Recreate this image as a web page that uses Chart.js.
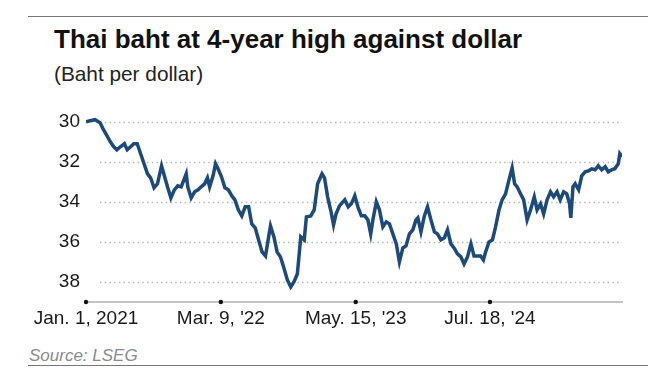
<!DOCTYPE html>
<html>
<head>
<meta charset="utf-8">
<script src="https://cdn.jsdelivr.net/npm/chart.js@4/dist/chart.umd.min.js"></script>
<style>
  html, body { margin: 0; padding: 0; background: #fff; }
  body { width: 671px; height: 384px; position: relative; overflow: hidden; font-family: "Liberation Sans", Arial, sans-serif; }
  .rule { position: absolute; left: 28px; width: 620px; height: 0; border-top: 1.5px solid #777; }
  #title { position: absolute; left: 54px; top: 26px; font-size: 26px; line-height: 26px; font-weight: bold; color: #111; white-space: nowrap; }
  #subtitle { position: absolute; left: 54px; top: 64px; font-size: 20.8px; line-height: 20px; color: #222; white-space: nowrap; }
  #source { position: absolute; left: 29px; top: 347px; font-size: 17px; line-height: 17px; font-style: italic; color: #8a8a8a; white-space: nowrap; }
  #wrap { position: absolute; left: 0; top: 100px; width: 671px; height: 240px; }
</style>
</head>
<body>
<div class="rule" style="top:16px"></div>
<div id="title">Thai baht at 4-year high against dollar</div>
<div id="subtitle">(Baht per dollar)</div>
<div id="wrap"><canvas id="chart"></canvas></div>
<div id="source">Source: LSEG</div>
<div class="rule" style="top:365px"></div>

<script>
// baht per dollar
const dates = [
  '2021-01-01','2021-01-14','2021-01-30','2021-02-15','2021-02-26','2021-03-09','2021-03-20','2021-03-31',
  '2021-04-10','2021-04-21','2021-05-04','2021-05-13','2021-05-24','2021-06-03','2021-06-14','2021-06-25',
  '2021-07-06','2021-07-17','2021-07-27','2021-08-07','2021-08-18','2021-08-31','2021-09-09','2021-09-19',
  '2021-09-30','2021-10-11','2021-10-22','2021-11-02','2021-11-18','2021-11-23','2021-12-04','2021-12-15',
  '2021-12-26','2022-01-05','2022-01-16','2022-01-25','2022-02-01','2022-02-12','2022-02-20','2022-02-28',
  '2022-03-11','2022-03-22','2022-04-02','2022-04-13','2022-04-23','2022-05-04','2022-05-15','2022-05-26',
  '2022-06-06','2022-06-16','2022-06-27','2022-07-08','2022-07-19','2022-07-30','2022-08-09','2022-08-15',
  '2022-08-26','2022-09-05','2022-09-16','2022-09-27','2022-10-08','2022-10-19','2022-10-29','2022-11-09',
  '2022-11-20','2022-12-01','2022-12-08','2022-12-22','2023-01-02','2023-01-13','2023-01-27','2023-02-04',
  '2023-02-14','2023-02-25','2023-03-05','2023-03-13','2023-03-24','2023-04-04','2023-04-10','2023-04-21',
  '2023-05-01','2023-05-12','2023-05-22','2023-06-02','2023-06-13','2023-06-23','2023-07-02','2023-07-09',
  '2023-07-20','2023-07-30','2023-08-10','2023-08-21','2023-08-31','2023-09-11','2023-09-22','2023-10-02',
  '2023-10-13','2023-10-23','2023-11-03','2023-11-14','2023-11-24','2023-11-30','2023-12-10','2023-12-21',
  '2023-12-31','2024-01-11','2024-01-22','2024-02-01','2024-02-12','2024-02-23','2024-03-04','2024-03-15',
  '2024-03-25','2024-04-05','2024-04-16','2024-04-26','2024-05-07','2024-05-18','2024-05-28','2024-06-08',
  '2024-06-18','2024-06-27','2024-07-04','2024-07-15','2024-07-26','2024-08-05','2024-08-16','2024-08-26',
  '2024-09-06','2024-09-17','2024-09-27','2024-10-05','2024-10-13','2024-10-24','2024-11-03','2024-11-14',
  '2024-11-25','2024-12-07','2024-12-16','2024-12-27','2025-01-06','2025-01-17','2025-01-28','2025-02-07',
  '2025-02-18','2025-02-28','2025-03-11','2025-03-21','2025-03-30','2025-04-03','2025-04-10','2025-04-17',
  '2025-04-28','2025-05-08','2025-05-19','2025-05-30','2025-06-09','2025-06-20','2025-06-30','2025-07-11',
  '2025-07-22','2025-08-01','2025-08-12','2025-08-22','2025-09-02','2025-09-07','2025-09-14'
];
const rates = [
  30.0, 29.95, 29.9, 30.05, 30.4, 30.7, 31.0, 31.25,
  31.4, 31.25, 31.1, 31.4, 31.25, 31.1, 31.1, 31.6,
  32.1, 32.6, 32.8, 33.3, 33.1, 32.2, 32.7, 33.25,
  33.8, 33.4, 33.2, 33.25, 32.6, 33.25, 33.8, 33.5,
  33.4, 33.25, 33.1, 32.8, 33.25, 32.7, 32.1, 32.35,
  32.75, 33.3, 33.4, 33.7, 33.9, 34.4, 34.7, 34.25,
  34.25, 35.1, 35.3, 35.9, 36.5, 36.7, 35.75, 35.2,
  35.75, 36.5, 36.75, 37.3, 37.9, 38.25, 38.0, 37.6,
  35.75, 35.9, 34.75, 34.7, 34.4, 33.1, 32.6, 32.8,
  33.75, 34.5, 35.15, 34.6, 34.2, 34.0, 33.9, 34.25,
  34.1, 33.7, 34.25, 34.7, 34.7, 34.9, 35.6, 34.9,
  34.0, 34.4, 35.25, 35.0, 35.1, 35.6, 36.1, 37.0,
  36.3, 36.2, 35.6, 35.4, 34.9, 34.8, 35.5, 34.7,
  34.25, 34.9, 35.5, 35.6, 35.9, 35.8, 35.4, 36.1,
  36.3, 36.6, 36.75, 37.1, 36.75, 36.1, 36.7, 36.7,
  36.7, 36.9, 36.5, 36.0, 35.9, 35.25, 34.4, 33.9,
  33.6, 32.9, 32.3, 33.1, 33.25, 33.6, 33.9, 34.9,
  34.4, 33.75, 34.4, 34.1, 34.6, 33.9, 33.5, 33.75,
  33.5, 33.9, 33.5, 33.6, 34.1, 34.8, 33.25, 33.1,
  33.4, 32.7, 32.5, 32.45, 32.35, 32.4, 32.2, 32.4,
  32.25, 32.5, 32.4, 32.35, 32.1, 31.6, 31.75
];
const xTickDates = ['2021-01-01', '2022-03-09', '2023-05-15', '2024-07-18'];
const xTickLabels = ['Jan. 1, 2021', "Mar. 9, '22", "May. 15, '23", "Jul. 18, '24"];
const yTicks = [30, 32, 34, 36, 38];

const day0 = Date.parse('2021-01-01');
const dayOf = s => (Date.parse(s) - day0) / 86400000;
const points = dates.map((d, i) => ({ x: dayOf(d), y: rates[i] }));
const xTickDays = xTickDates.map(dayOf);

const noPad = scale => {
  scale.paddingTop = 0;
  scale.paddingBottom = 0;
  scale.paddingLeft = 0;
  scale.paddingRight = 0;
};

const gridAndDots = {
  id: 'gridAndDots',
  beforeDatasetsDraw(chart) {
    const { ctx, chartArea, scales } = chart;
    ctx.save();
    ctx.strokeStyle = '#b8b8b8';
    ctx.lineWidth = 1.5;
    ctx.setLineDash([1.5, 3.2]);
    yTicks.forEach(v => {
      const y = Math.round(scales.y.getPixelForValue(v)) + 0.5;
      ctx.beginPath();
      ctx.moveTo(chartArea.left + 14, y);
      ctx.lineTo(chartArea.right, y);
      ctx.stroke();
    });
    ctx.restore();
  },
  afterDatasetsDraw(chart) {
    const { ctx, chartArea, scales } = chart;
    ctx.save();
    ctx.fillStyle = '#111';
    xTickDays.forEach(d => {
      ctx.beginPath();
      ctx.arc(scales.x.getPixelForValue(d), chartArea.bottom, 2.2, 0, Math.PI * 2);
      ctx.fill();
    });
    ctx.restore();
  }
};

new Chart(document.getElementById('chart'), {
  type: 'line',
  data: {
    datasets: [{
      data: points,
      borderColor: '#1d4a78',
      borderWidth: 3.5,
      pointRadius: 0,
      tension: 0,
      fill: false
    }]
  },
  options: {
    responsive: true,
    maintainAspectRatio: false,
    animation: false,
    layout: { padding: { top: 11.7, right: 49, left: 0, bottom: 0 } },
    scales: {
      x: {
        type: 'linear',
        min: 0,
        max: dayOf(dates[dates.length - 1]),
        afterBuildTicks: scale => { scale.ticks = xTickDays.map(v => ({ value: v })); },
        afterFit: scale => { scale.height = 38; noPad(scale); },
        grid: { display: false, drawTicks: false },
        border: { display: true, color: '#c4c4c4', width: 2 },
        ticks: {
          autoSkip: false,
          maxRotation: 0,
          padding: 5,
          color: '#1a1a1a',
          font: { family: 'Liberation Sans', size: 19 },
          callback: (v, i) => xTickLabels[i]
        }
      },
      y: {
        reverse: true,
        min: 29.5,
        max: 39,
        afterBuildTicks: scale => { scale.ticks = yTicks.map(v => ({ value: v })); },
        afterFit: scale => { scale.width = 86; noPad(scale); },
        grid: { display: false, drawTicks: false },
        border: { display: false },
        ticks: {
          padding: 6,
          color: '#1a1a1a',
          font: { family: 'Liberation Sans', size: 19 }
        }
      }
    },
    plugins: {
      legend: { display: false },
      tooltip: { enabled: false }
    }
  },
  plugins: [gridAndDots]
});
</script>
</body>
</html>
